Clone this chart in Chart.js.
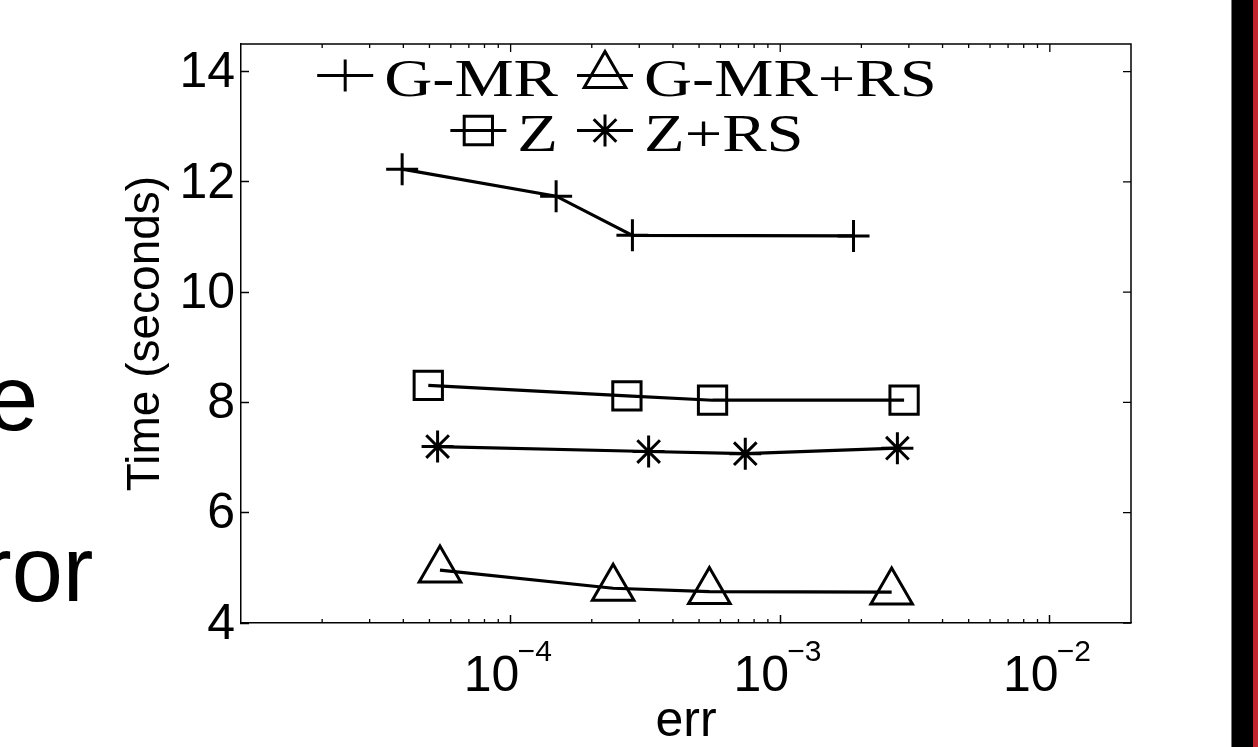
<!DOCTYPE html>
<html>
<head>
<meta charset="utf-8">
<script src="https://cdn.jsdelivr.net/npm/chart.js@4.4.1/dist/chart.umd.min.js"></script>
<style>
  html, body { margin: 0; padding: 0; background: #fff; overflow: hidden; }
  #wrap { position: relative; width: 1258px; height: 747px; overflow: hidden; background: #fff; }
  #c { position: absolute; left: 0; top: 0; }
  .slide { position: absolute; font-family: "Liberation Sans", Arial, Helvetica, sans-serif; font-size: 92px; line-height: 92px; color: #000; white-space: nowrap; }
  #barBlack { position: absolute; left: 1232px; top: 0; width: 21px; height: 747px; background: #000; box-shadow: -1px 0 0 #777; }
  #barRed { position: absolute; left: 1253px; top: 0; width: 5px; height: 747px; background: #c0262d; }
</style>
</head>
<body>
<div id="wrap">
  <canvas id="c" width="1258" height="747"></canvas>
  <div class="slide" style="left:-13px; top:352px;">e</div>
  <div class="slide" style="left:-19px; top:523px;">ror</div>
  <div id="barBlack"></div>
  <div id="barRed"></div>
</div>
<script>
// ---- data ----
const seriesNames = ['G-MR', 'G-MR+RS', 'Z', 'Z+RS'];

const gmrErr    = [3.96e-5, 1.475e-4, 2.83e-4, 1.87e-3];
const gmrTime   = [12.23, 11.74, 11.03, 11.02];

const gmrRsErr  = [5.47e-5, 2.40e-4, 5.46e-4, 2.59e-3];
const gmrRsTime = [4.96, 4.63, 4.57, 4.56];

const zErr      = [4.95e-5, 2.70e-4, 5.61e-4, 2.88e-3];
const zTime     = [8.31, 8.12, 8.04, 8.04];

const zRsErr    = [5.36e-5, 3.25e-4, 7.42e-4, 2.72e-3];
const zRsTime   = [7.20, 7.11, 7.07, 7.17];

const xTickValues = [1e-4, 1e-3, 1e-2];
const xTickBase   = '10';
const yTickValues = [4, 6, 8, 10, 12, 14];
const xRange = [1e-5, 2e-2];
const yRange = [4, 14.5];

const xTitle = 'err';
const yTitle = 'Time (seconds)';

// ---- helpers ----
const SANS = '"Liberation Sans", Arial, Helvetica, sans-serif';
const SERIF = '"Liberation Serif", "Times New Roman", serif';
const pairs = (xs, ys) => xs.map((v, i) => ({ x: v, y: ys[i] }));

function drawMarker(c, style, r, x, y) {
  c.beginPath();
  if (style === 'cross' || style === 'star') {
    c.moveTo(x - r, y); c.lineTo(x + r, y);
    c.moveTo(x, y - r); c.lineTo(x, y + r);
  }
  if (style === 'star') {
    const d = r * Math.SQRT1_2;
    c.moveTo(x - d, y - d); c.lineTo(x + d, y + d);
    c.moveTo(x + d, y - d); c.lineTo(x - d, y + d);
  }
  if (style === 'rect') {
    const s = r * Math.SQRT1_2;
    c.rect(x - s, y - s, 2 * s, 2 * s);
  }
  if (style === 'triangle') {
    const sx = r * Math.sin(2 * Math.PI / 3), sy = r * 0.5;
    c.moveTo(x, y - r); c.lineTo(x + sx, y + sy); c.lineTo(x - sx, y + sy); c.closePath();
  }
  c.stroke();
}

// box, mirrored ticks, minor log ticks and exponents (MATLAB look)
const matlabFrame = {
  id: 'matlabFrame',
  afterDatasetsDraw(chart) {
    const { ctx, chartArea: a, scales } = chart;
    const xs = scales.x, ys = scales.y;
    ctx.save();
    ctx.strokeStyle = '#000';
    ctx.lineWidth = 1.5;
    ctx.beginPath();
    ctx.moveTo(a.left, a.top); ctx.lineTo(a.right, a.top); ctx.lineTo(a.right, a.bottom);
    ctx.stroke();

    ctx.beginPath();
    xs.ticks.forEach(t => {
      const px = xs.getPixelForValue(t.value);
      ctx.moveTo(px, a.top); ctx.lineTo(px, a.top + 8);
    });
    ys.ticks.forEach(t => {
      const py = ys.getPixelForValue(t.value);
      ctx.moveTo(a.right, py); ctx.lineTo(a.right - 8, py);
    });
    const e0 = Math.floor(Math.log10(xs.min)), e1 = Math.ceil(Math.log10(xs.max));
    for (let e = e0; e <= e1; e++) {
      for (let k = 2; k <= 9; k++) {
        const v = k * Math.pow(10, e);
        if (v <= xs.min || v >= xs.max) continue;
        const px = xs.getPixelForValue(v);
        ctx.moveTo(px, a.bottom); ctx.lineTo(px, a.bottom - 4);
        ctx.moveTo(px, a.top); ctx.lineTo(px, a.top + 4);
      }
    }
    ctx.lineWidth = 1.3;
    ctx.stroke();

    ctx.fillStyle = '#000';
    ctx.font = '30px ' + SANS;
    ctx.textAlign = 'left';
    ctx.textBaseline = 'alphabetic';
    xs.ticks.forEach(t => {
      const px = xs.getPixelForValue(t.value);
      const ex = Math.round(Math.log10(t.value));
      ctx.fillText((ex < 0 ? '\u2212' : '') + Math.abs(ex), px + 7, a.bottom + 38);
    });
    ctx.restore();
  }
};

// legend drawn inside the axes, two rows, line + marker + label
const matlabLegend = {
  id: 'matlabLegend',
  afterDatasetsDraw(chart) {
    const { ctx, chartArea: a } = chart;
    const dsets = chart.data.datasets;
    const rows = [[0, 1], [2, 3]];
    const rowY = [a.top + 31.5, a.top + 86.5];
    const lineLen = 56, gap = 11, stretch = 1.28;
    const col2X = a.left + 336;
    const col1End = a.left + 317;
    ctx.save();
    ctx.font = '52px ' + SERIF;
    ctx.fillStyle = '#000';
    ctx.strokeStyle = '#000';
    ctx.lineWidth = 3;
    ctx.textBaseline = 'alphabetic';
    ctx.textAlign = 'left';
    rows.forEach((row, ri) => {
      const y = rowY[ri];
      row.forEach((di, ci) => {
        const ds = dsets[di];
        const tw = ctx.measureText(ds.label).width * stretch;
        const x0 = ci === 0 ? col1End - (lineLen + gap + tw) : col2X;
        ctx.beginPath(); ctx.moveTo(x0, y); ctx.lineTo(x0 + lineLen, y); ctx.stroke();
        drawMarker(ctx, ds.pointStyle, ds.pointRadius, x0 + lineLen / 2, y);
        ctx.save();
        ctx.translate(x0 + lineLen + gap, y + 20);
        ctx.scale(stretch, 1);
        ctx.fillText(ds.label, 0, 0);
        ctx.restore();
      });
    });
    ctx.restore();
  }
};

const datasets = [
  { label: seriesNames[0], data: pairs(gmrErr, gmrTime),     pointStyle: 'cross',    pointRadius: 16 },
  { label: seriesNames[1], data: pairs(gmrRsErr, gmrRsTime), pointStyle: 'triangle', pointRadius: 24 },
  { label: seriesNames[2], data: pairs(zErr, zTime),         pointStyle: 'rect',     pointRadius: 20 },
  { label: seriesNames[3], data: pairs(zRsErr, zRsTime),     pointStyle: 'star',     pointRadius: 16 }
].map(d => Object.assign(d, {
  borderColor: '#000', borderWidth: 3.2,
  pointBorderColor: '#000', pointBackgroundColor: 'rgba(0,0,0,0)', pointBorderWidth: 3,
  pointHoverRadius: d.pointRadius, tension: 0, fill: false, showLine: true
}));

new Chart(document.getElementById('c').getContext('2d'), {
  type: 'line',
  data: { datasets },
  options: {
    responsive: false,
    animation: false,
    devicePixelRatio: 1,
    events: [],
    layout: { padding: { left: 0, top: 41, right: 127, bottom: 0 } },
    plugins: { legend: { display: false }, tooltip: { enabled: false } },
    scales: {
      x: {
        type: 'logarithmic',
        position: 'bottom',
        min: xRange[0], max: xRange[1],
        afterBuildTicks: s => { s.ticks = xTickValues.map(v => ({ value: v, major: true })); },
        afterFit: s => { s.height = 124; },
        ticks: {
          callback: () => xTickBase,
          autoSkip: false, maxRotation: 0, minRotation: 0,
          padding: 32, labelOffset: -19,
          color: '#000', font: { family: SANS, size: 50, lineHeight: 1.2 }
        },
        grid: { display: true, drawOnChartArea: false, drawTicks: true, tickLength: -8, tickWidth: 1.5, tickColor: '#000' },
        border: { display: true, color: '#000', width: 1.5 },
        title: { display: true, text: xTitle, color: '#000', font: { family: SANS, size: 50, lineHeight: 1 }, padding: { top: 0, bottom: 0 } }
      },
      y: {
        type: 'linear',
        position: 'left',
        min: yRange[0], max: yRange[1],
        afterBuildTicks: s => { s.ticks = yTickValues.map(v => ({ value: v })); },
        afterFit: s => { s.width = 241; },
        ticks: {
          callback: v => String(v),
          autoSkip: false, padding: 14, labelOffset: 2,
          color: '#000', font: { family: SANS, size: 50, lineHeight: 1.2 }
        },
        grid: { display: true, drawOnChartArea: false, drawTicks: true, tickLength: -8, tickWidth: 1.5, tickColor: '#000' },
        border: { display: true, color: '#000', width: 1.5 },
        title: { display: true, text: yTitle, color: '#000', font: { family: SANS, size: 46, lineHeight: 1 }, padding: { top: 123, bottom: 0 } }
      }
    }
  },
  plugins: [matlabFrame, matlabLegend]
});
</script>
</body>
</html>
